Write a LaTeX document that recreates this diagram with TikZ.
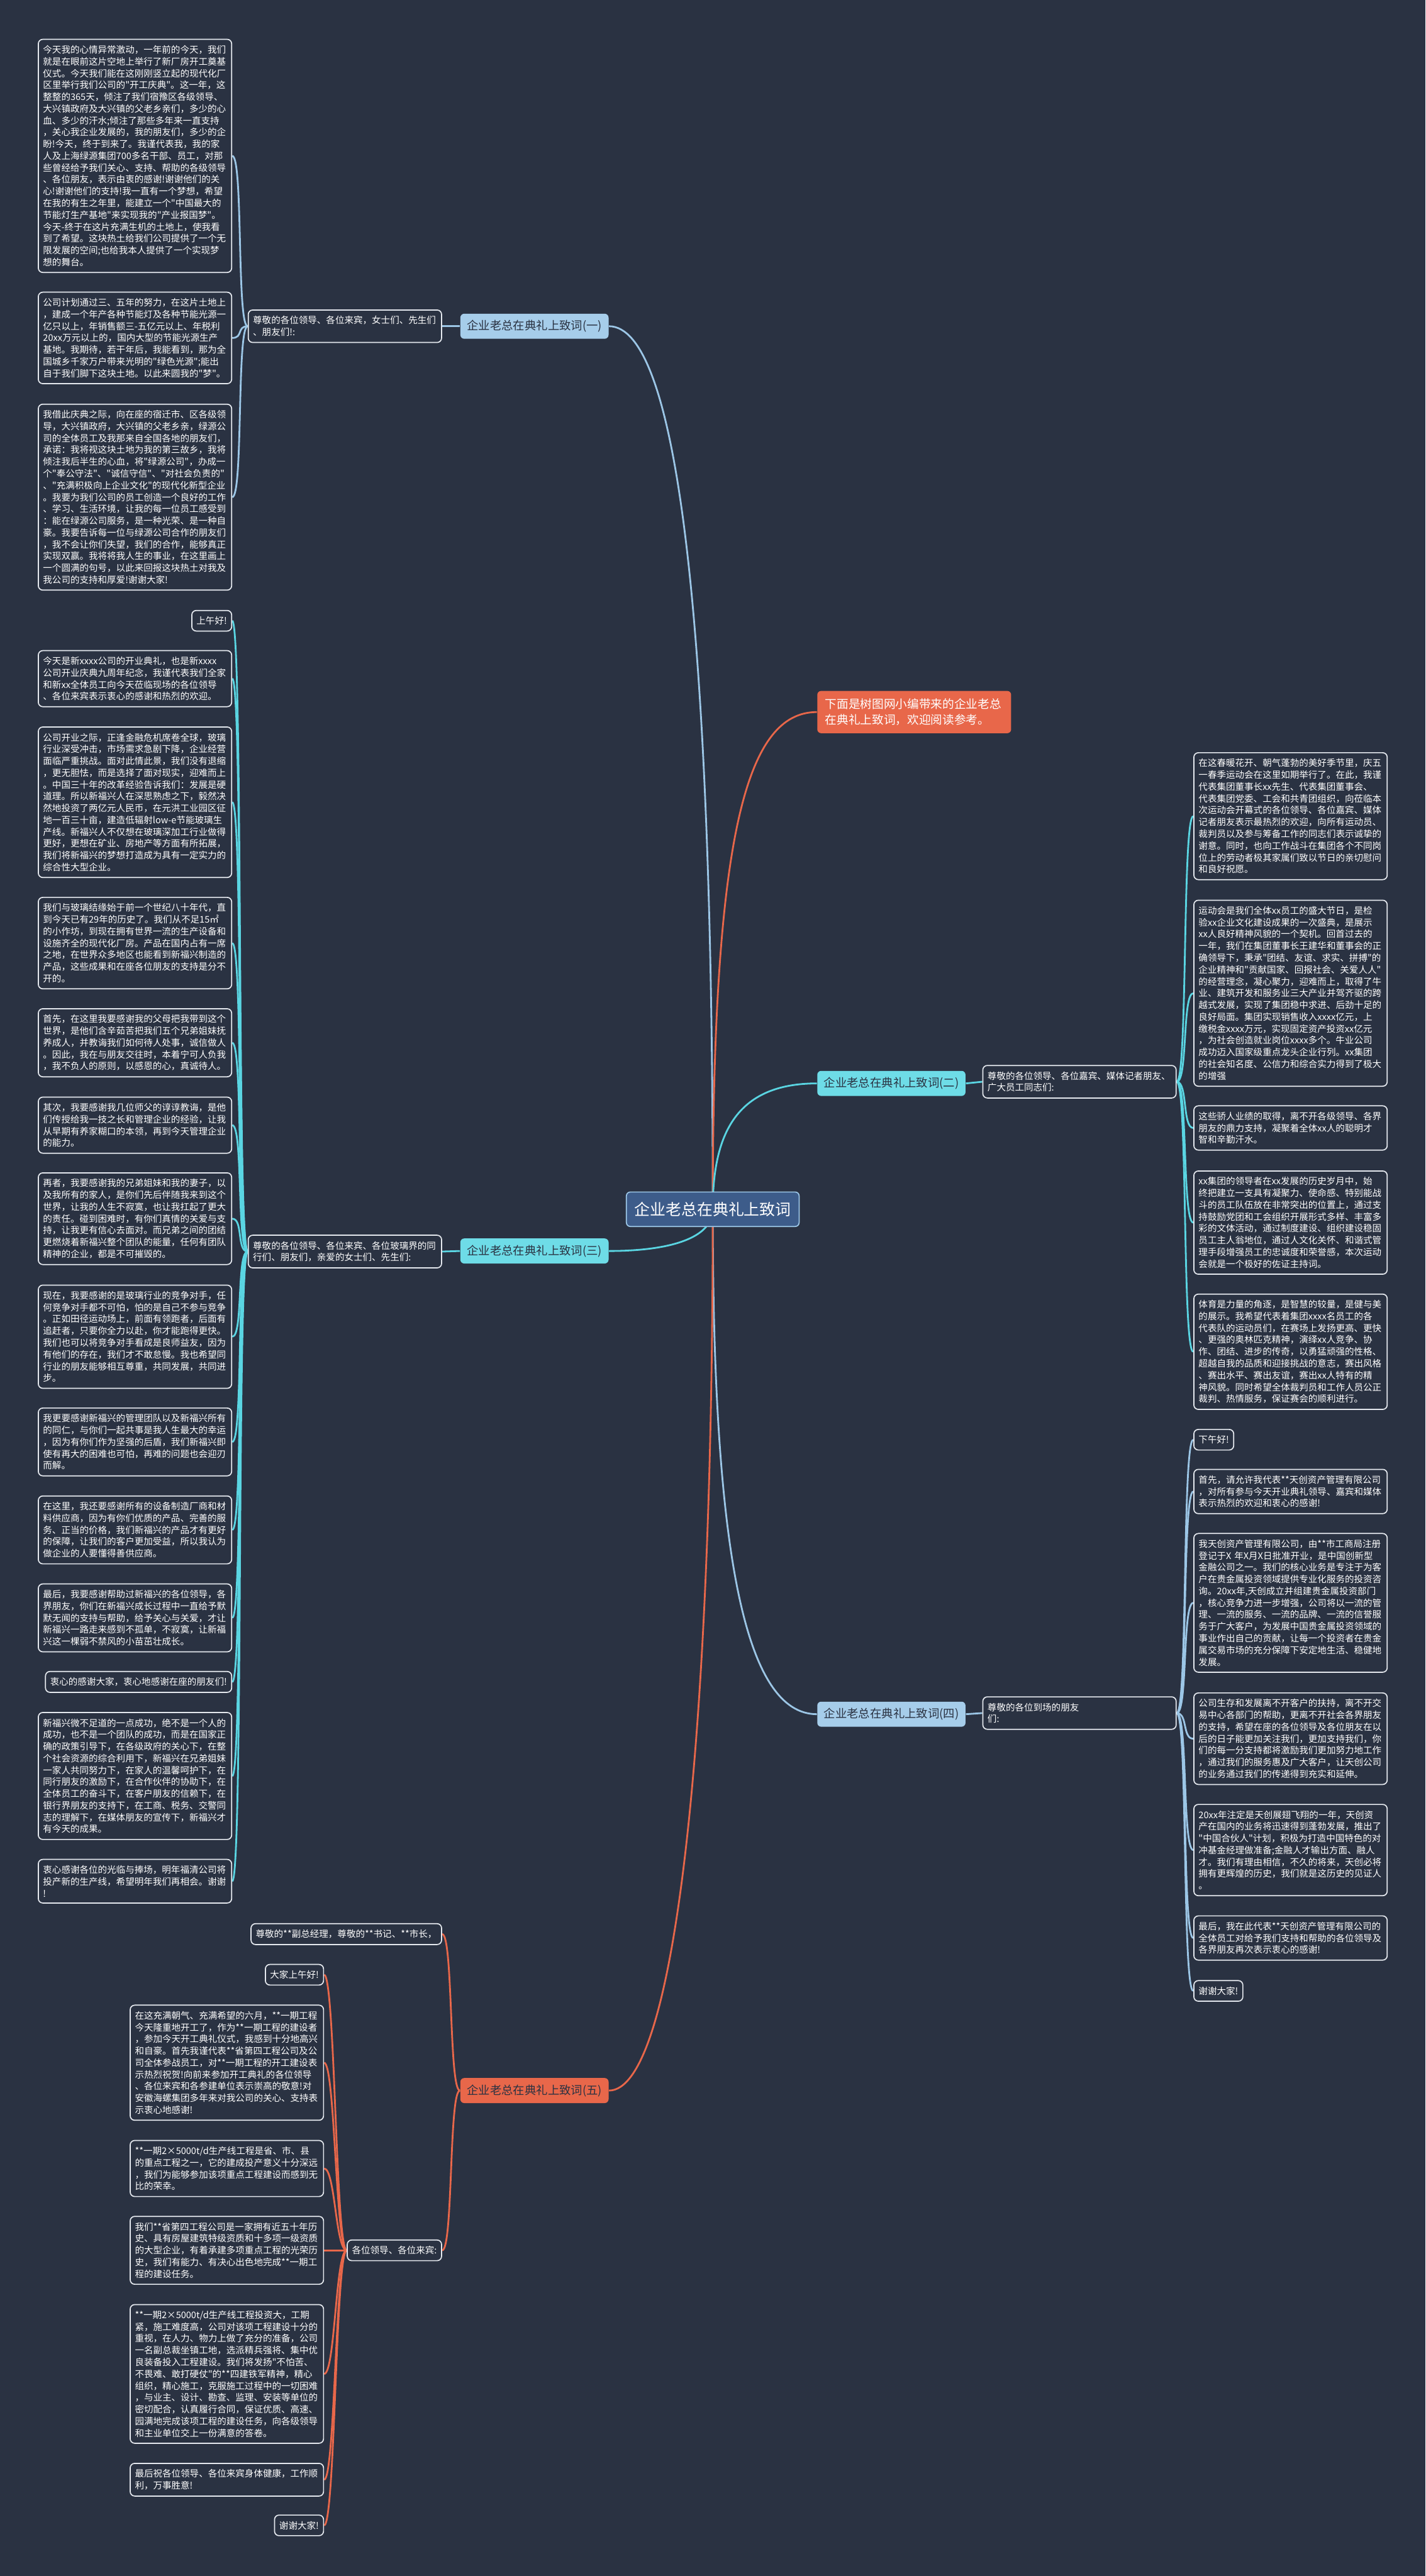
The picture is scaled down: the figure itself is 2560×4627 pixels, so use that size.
\documentclass[tikz,border=0pt]{standalone}
\usepackage{fontspec}
\newfontfamily\cjk{Noto Sans CJK SC}
\usetikzlibrary{backgrounds}
\definecolor{bg}{HTML}{2A3242}
\definecolor{boxline}{HTML}{E4E8EE}
\definecolor{skyline}{HTML}{9CC6E6}
\definecolor{skyfill}{HTML}{A6CDEA}
\definecolor{cyanline}{HTML}{5AD5E2}
\definecolor{cyanfill}{HTML}{6EDCE7}
\definecolor{redline}{HTML}{E8674A}
\definecolor{rootfill}{HTML}{3D5C8A}
\tikzset{
    para/.style={draw=boxline, line width=0.55pt, rounded corners=2.3pt, fill=bg,
        text=white, font=\cjk\fontsize{4.67pt}{6.03pt}\selectfont, align=left,
        text width=93.9pt, inner xsep=2.42pt, inner ysep=3.1pt},
    tag/.style={para, text width={}},
    topic/.style={rounded corners=2pt, text=bg, font=\cjk\fontsize{5.9pt}{7pt}\selectfont,
        minimum width=75.7pt, minimum height=12.8pt, inner sep=1pt},
    skylink/.style={draw=skyline, line width=0.9pt},
    cyanlink/.style={draw=cyanline, line width=0.9pt},
    redlink/.style={draw=redline, line width=0.9pt}
}
\begin{document}
\begin{tikzpicture}[x=0.01cm, y=-0.01cm]
    \useasboundingbox (0,0) rectangle (2560,4627);

    \node[draw=skyline, line width=0.55pt, fill=rootfill, rounded corners=2pt, text=white,
        font=\cjk\fontsize{8pt}{9pt}\selectfont, minimum width=88.2pt, minimum height=17.6pt]
        (root) at (1280,2172) {企业老总在典礼上致词};

    \node[fill=redline, rounded corners=2pt, text=white, font=\cjk\fontsize{6pt}{8.2pt}\selectfont,
        align=left, text width=91pt, inner xsep=4pt, minimum height=21.6pt, anchor=west]
        (intro) at (1467,1279) {下面是树图网小编带来的企业老总\\在典礼上致词，欢迎阅读参考。};

    \node[topic, fill=skyfill, anchor=west] (t1) at (826,586) {企业老总在典礼上致词(一)};
    \node[topic, fill=cyanfill, anchor=west] (t2) at (1467,1946) {企业老总在典礼上致词(二)};
    \node[topic, fill=cyanfill, anchor=west] (t3) at (826,2247) {企业老总在典礼上致词(三)};
    \node[topic, fill=skyfill, anchor=west] (t4) at (1467,3079) {企业老总在典礼上致词(四)};
    \node[topic, fill=redline, anchor=west] (t5) at (826,3755) {企业老总在典礼上致词(五)};

    \node[para, anchor=east] (s1) at (794,586) {尊敬的各位领导、各位来宾，女士们、先生们\\、朋友们!:};
    \node[para, anchor=west] (s2) at (1764,1943) {尊敬的各位领导、各位嘉宾、媒体记者朋友、\\广大员工同志们:};
    \node[para, anchor=east] (s3) at (794,2248) {尊敬的各位领导、各位来宾、各位玻璃界的同\\行们、朋友们，亲爱的女士们、先生们:};
    \node[para, anchor=west] (s4) at (1764,3077) {尊敬的各位到场的朋友\\们:};
    \node[tag, anchor=east] (s5) at (794,4042) {各位领导、各位来宾:};
    \node[tag, anchor=east] (f0) at (794,3474) {尊敬的**副总经理，尊敬的**书记、**市长，};

    \node[para, anchor=east] (a1) at (417,280) {今天我的心情异常激动，一年前的今天，我们\\就是在眼前这片空地上举行了新厂房开工奠基\\仪式。今天我们能在这刚刚竖立起的现代化厂\\区里举行我们公司的"开工庆典"。这一年，这\\整整的365天，倾注了我们宿豫区各级领导、\\大兴镇政府及大兴镇的父老乡亲们，多少的心\\血、多少的汗水;倾注了那些多年来一直支持\\，关心我企业发展的，我的朋友们，多少的企\\盼!今天，终于到来了。我谨代表我，我的家\\人及上海绿源集团700多名干部、员工，对那\\些曾经给予我们关心、支持、帮助的各级领导\\、各位朋友，表示由衷的感谢!谢谢他们的关\\心!谢谢他们的支持!我一直有一个梦想，希望\\在我的有生之年里，能建立一个"中国最大的\\节能灯生产基地"来实现我的"产业报国梦"。\\今天-终于在这片充满生机的土地上，使我看\\到了希望。这块热土给我们公司提供了一个无\\限发展的空间;也给我本人提供了一个实现梦\\想的舞台。};
    \node[para, anchor=east] (a2) at (417,607) {公司计划通过三、五年的努力，在这片土地上\\，建成一个年产各种节能灯及各种节能光源一\\亿只以上，年销售额三-五亿元以上、年税利\\20xx万元以上的，国内大型的节能光源生产\\基地。我期待，若干年后，我能看到，那为全\\国城乡千家万户带来光明的"绿色光源";能出\\自于我们脚下这块土地。以此来圆我的"梦"。};
    \node[para, anchor=east] (a3) at (417,893) {我借此庆典之际，向在座的宿迁市、区各级领\\导，大兴镇政府，大兴镇的父老乡亲，绿源公\\司的全体员工及我那来自全国各地的朋友们，\\承诺：我将视这块土地为我的第三故乡，我将\\倾注我后半生的心血，将"绿源公司"，办成一\\个"奉公守法"、"诚信守信"、"对社会负责的"\\、"充满积极向上企业文化"的现代化新型企业\\。我要为我们公司的员工创造一个良好的工作\\、学习、生活环境，让我的每一位员工感受到\\：能在绿源公司服务，是一种光荣、是一种自\\豪。我要告诉每一位与绿源公司合作的朋友们\\，我不会让你们失望，我们的合作，能够真正\\实现双赢。我将将我人生的事业，在这里画上\\一个圆满的句号，以此来回报这块热土对我及\\我公司的支持和厚爱!谢谢大家!};

    \node[tag, anchor=east] (c0) at (417,1115) {上午好!};
    \node[para, anchor=east] (c1) at (417,1219) {今天是新xxxx公司的开业典礼，也是新xxxx\\公司开业庆典九周年纪念，我谨代表我们全家\\和新xx全体员工向今天莅临现场的各位领导\\、各位来宾表示衷心的感谢和热烈的欢迎。};
    \node[para, anchor=east] (c2) at (417,1441) {公司开业之际，正逢金融危机席卷全球，玻璃\\行业深受冲击，市场需求急剧下降，企业经营\\面临严重挑战。面对此情此景，我们没有退缩\\，更无胆怯，而是选择了面对现实，迎难而上\\。中国三十年的改革经验告诉我们：发展是硬\\道理。所以新福兴人在深思熟虑之下，毅然决\\然地投资了两亿元人民币，在元洪工业园区征\\地一百三十亩，建造低辐射low-e节能玻璃生\\产线。新福兴人不仅想在玻璃深加工行业做得\\更好，更想在矿业、房地产等方面有所拓展，\\我们将新福兴的梦想打造成为具有一定实力的\\综合性大型企业。};
    \node[para, anchor=east] (c3) at (417,1694) {我们与玻璃结缘始于前一个世纪八十年代，直\\到今天已有29年的历史了。我们从不足15㎡\\的小作坊，到现在拥有世界一流的生产设备和\\设施齐全的现代化厂房。产品在国内占有一席\\之地，在世界众多地区也能看到新福兴制造的\\产品，这些成果和在座各位朋友的支持是分不\\开的。};
    \node[para, anchor=east] (c4) at (417,1873) {首先，在这里我要感谢我的父母把我带到这个\\世界，是他们含辛茹苦把我们五个兄弟姐妹抚\\养成人，并教诲我们如何待人处事，诚信做人\\。因此，我在与朋友交往时，本着宁可人负我\\，我不负人的原则，以感恩的心，真诚待人。};
    \node[para, anchor=east] (c5) at (417,2021) {其次，我要感谢我几位师父的谆谆教诲，是他\\们传授给我一技之长和管理企业的经验，让我\\从早期有养家糊口的本领，再到今天管理企业\\的能力。};
    \node[para, anchor=east] (c6) at (417,2189) {再者，我要感谢我的兄弟姐妹和我的妻子，以\\及我所有的家人，是你们先后伴随我来到这个\\世界，让我的人生不寂寞，也让我扛起了更大\\的责任。碰到困难时，有你们真情的关爱与支\\持，让我更有信心去面对。而兄弟之间的团结\\更燃烧着新福兴整个团队的能量，任何有团队\\精神的企业，都是不可摧毁的。};
    \node[para, anchor=east] (c7) at (417,2401) {现在，我要感谢的是玻璃行业的竞争对手，任\\何竞争对手都不可怕，怕的是自己不参与竞争\\。正如田径运动场上，前面有领跑者，后面有\\追赶者，只要你全力以赴，你才能跑得更快。\\我们也可以将竞争对手看成是良师益友，因为\\有他们的存在，我们才不敢怠慢。我也希望同\\行业的朋友能够相互尊重，共同发展，共同进\\步。};
    \node[para, anchor=east] (c8) at (417,2590) {我更要感谢新福兴的管理团队以及新福兴所有\\的同仁，与你们一起共事是我人生最大的幸运\\，因为有你们作为坚强的后盾，我们新福兴即\\使有再大的困难也可怕，再难的问题也会迎刃\\而解。};
    \node[para, anchor=east] (c9) at (417,2748) {在这里，我还要感谢所有的设备制造厂商和材\\料供应商，因为有你们优质的产品、完善的服\\务、正当的价格，我们新福兴的产品才有更好\\的保障，让我们的客户更加受益，所以我认为\\做企业的人要懂得善供应商。};
    \node[para, anchor=east] (c10) at (417,2906) {最后，我要感谢帮助过新福兴的各位领导，各\\界朋友，你们在新福兴成长过程中一直给予默\\默无闻的支持与帮助，给予关心与关爱，才让\\新福兴一路走来感到不孤单，不寂寞，让新福\\兴这一棵弱不禁风的小苗茁壮成长。};
    \node[tag, anchor=east] (c11) at (417,3021) {衷心的感谢大家，衷心地感谢在座的朋友们!};
    \node[para, anchor=east] (c12) at (417,3190) {新福兴微不足道的一点成功，绝不是一个人的\\成功，也不是一个团队的成功，而是在国家正\\确的政策引导下，在各级政府的关心下，在整\\个社会资源的综合利用下，新福兴在兄弟姐妹\\一家人共同努力下，在家人的温馨呵护下，在\\同行朋友的激励下，在合作伙伴的协助下，在\\全体员工的奋斗下，在客户朋友的信赖下，在\\银行界朋友的支持下，在工商、税务、交警同\\志的理解下，在媒体朋友的宣传下，新福兴才\\有今天的成果。};
    \node[para, anchor=east] (c13) at (417,3379) {衷心感谢各位的光临与捧场，明年福清公司将\\投产新的生产线，希望明年我们再相会。谢谢\\!};

    \node[para, anchor=west] (d1) at (2143,1466) {在这春暖花开、朝气蓬勃的美好季节里，庆五\\一春季运动会在这里如期举行了。在此，我谨\\代表集团董事长xx先生、代表集团董事会、\\代表集团党委、工会和共青团组织，向莅临本\\次运动会开幕式的各位领导、各位嘉宾、媒体\\记者朋友表示最热烈的欢迎，向所有运动员、\\裁判员以及参与筹备工作的同志们表示诚挚的\\谢意。同时，也向工作战斗在集团各个不同岗\\位上的劳动者极其家属们致以节日的亲切慰问\\和良好祝愿。};
    \node[para, anchor=west] (d2) at (2143,1784) {运动会是我们全体xx员工的盛大节日，是检\\验xx企业文化建设成果的一次盛典，是展示\\xx人良好精神风貌的一个契机。回首过去的\\一年，我们在集团董事长王建华和董事会的正\\确领导下，秉承"团结、友谊、求实、拼搏"的\\企业精神和"贡献国家、回报社会、关爱人人"\\的经营理念，凝心聚力，迎难而上，取得了牛\\业、建筑开发和服务业三大产业并驾齐驱的跨\\越式发展，实现了集团稳中求进、后劲十足的\\良好局面。集团实现销售收入xxxx亿元，上\\缴税金xxxx万元，实现固定资产投资xx亿元\\，为社会创造就业岗位xxxx多个。牛业公司\\成功迈入国家级重点龙头企业行列。xx集团\\的社会知名度、公信力和综合实力得到了极大\\的增强};
    \node[para, anchor=west] (d3) at (2143,2026) {这些骄人业绩的取得，离不开各级领导、各界\\朋友的鼎力支持，凝聚着全体xx人的聪明才\\智和辛勤汗水。};
    \node[para, anchor=west] (d4) at (2143,2196) {xx集团的领导者在xx发展的历史岁月中，始\\终把建立一支具有凝聚力、使命感、特别能战\\斗的员工队伍放在非常突出的位置上，通过支\\持鼓励党团和工会组织开展形式多样、丰富多\\彩的文体活动，通过制度建设、组织建设稳固\\员工主人翁地位，通过人文化关怀、和谐式管\\理手段增强员工的忠诚度和荣誉感，本次运动\\会就是一个极好的佐证主持词。};
    \node[para, anchor=west] (d5) at (2143,2428) {体育是力量的角逐，是智慧的较量，是健与美\\的展示。我希望代表着集团xxxx名员工的各\\代表队的运动员们，在赛场上发扬更高、更快\\、更强的奥林匹克精神，演绎xx人竞争、协\\作、团结、进步的传奇，以勇猛顽强的性格、\\超越自我的品质和迎接挑战的意志，赛出风格\\、赛出水平、赛出友谊，赛出xx人特有的精\\神风貌。同时希望全体裁判员和工作人员公正\\裁判、热情服务，保证赛会的顺利进行。};

    \node[tag, anchor=west] (e0) at (2143,2586) {下午好!};
    \node[para, anchor=west] (e1) at (2143,2679) {首先，请允许我代表**天创资产管理有限公司\\，对所有参与今天开业典礼领导、嘉宾和媒体\\表示热烈的欢迎和衷心的感谢!};
    \node[para, anchor=west] (e2) at (2143,2879) {我天创资产管理有限公司，由**市工商局注册\\登记于X 年X月X日批准开业，是中国创新型\\金融公司之一。我们的核心业务是专注于为客\\户在贵金属投资领域提供专业化服务的投资咨\\询。20xx年,天创成立并组建贵金属投资部门\\，核心竞争力进一步增强，公司将以一流的管\\理、一流的服务、一流的品牌、一流的信誉服\\务于广大客户，为发展中国贵金属投资领域的\\事业作出自己的贡献，让每一个投资者在贵金\\属交易市场的充分保障下安定地生活、稳健地\\发展。};
    \node[para, anchor=west] (e3) at (2143,3123) {公司生存和发展离不开客户的扶持，离不开交\\易中心各部门的帮助，更离不开社会各界朋友\\的支持，希望在座的各位领导及各位朋友在以\\后的日子能更加关注我们，更加支持我们，你\\们的每一分支持都将激励我们更加努力地工作\\，通过我们的服务惠及广大客户，让天创公司\\的业务通过我们的传递得到充实和延伸。};
    \node[para, anchor=west] (e4) at (2143,3323) {20xx年注定是天创展翅飞翔的一年，天创资\\产在国内的业务将迅速得到蓬勃发展，推出了\\"中国合伙人"计划，积极为打造中国特色的对\\冲基金经理做准备;金融人才输出方面、融人\\才。我们有理由相信，不久的将来，天创必将\\拥有更辉煌的历史，我们就是这历史的见证人\\。};
    \node[para, anchor=west] (e5) at (2143,3481) {最后，我在此代表**天创资产管理有限公司的\\全体员工对给予我们支持和帮助的各位领导及\\各界朋友再次表示衷心的感谢!};
    \node[tag, anchor=west] (e6) at (2143,3576) {谢谢大家!};

    \node[tag, anchor=east] (b0) at (582,3547) {大家上午好!};
    \node[para, anchor=east] (b1) at (582,3705) {在这充满朝气、充满希望的六月，**一期工程\\今天隆重地开工了，作为**一期工程的建设者\\，参加今天开工典礼仪式，我感到十分地高兴\\和自豪。首先我谨代表**省第四工程公司及公\\司全体参战员工，对**一期工程的开工建设表\\示热烈祝贺!向前来参加开工典礼的各位领导\\、各位来宾和各参建单位表示崇高的敬意!对\\安徽海螺集团多年来对我公司的关心、支持表\\示衷心地感谢!};
    \node[para, anchor=east] (b2) at (582,3895) {**一期2×5000t/d生产线工程是省、市、县\\的重点工程之一，它的建成投产意义十分深远\\，我们为能够参加该项重点工程建设而感到无\\比的荣幸。};
    \node[para, anchor=east] (b3) at (582,4042) {我们**省第四工程公司是一家拥有近五十年历\\史、具有房屋建筑特级资质和十多项一级资质\\的大型企业，有着承建多项重点工程的光荣历\\史，我们有能力、有决心出色地完成**一期工\\程的建设任务。};
    \node[para, anchor=east] (b4) at (582,4264) {**一期2×5000t/d生产线工程投资大，工期\\紧，施工难度高，公司对该项工程建设十分的\\重视，在人力、物力上做了充分的准备，公司\\一名副总裁坐镇工地，选派精兵强将、集中优\\良装备投入工程建设。我们将发扬"不怕苦、\\不畏难、敢打硬仗"的**四建铁军精神，精心\\组织，精心施工，克服施工过程中的一切困难\\，与业主、设计、勘查、监理、安装等单位的\\密切配合，认真履行合同，保证优质、高速、\\园满地完成该项工程的建设任务，向各级领导\\和主业单位交上一份满意的答卷。};
    \node[para, anchor=east] (b5) at (582,4454) {最后祝各位领导、各位来宾身体健康，工作顺\\利，万事胜意!};
    \node[tag, anchor=east] (b6) at (582,4536) {谢谢大家!};

    \begin{pgfonlayer}{background}
        \fill[bg] (0,0) rectangle (2560,4627);

        \draw[skylink] (root.center) .. controls (1280,1100) and (1215,586) .. (t1.east);
        \draw[redlink] (root.center) .. controls (1280,1500) and (1340,1279) .. (intro.west);
        \draw[cyanlink] (root.center) .. controls (1280,2040) and (1320,1946) .. (t2.west);
        \draw[cyanlink] (root.center) .. controls (1280,2225) and (1200,2247) .. (t3.east);
        \draw[skylink] (root.center) .. controls (1280,2800) and (1340,3079) .. (t4.west);
        \draw[redlink] (root.center) .. controls (1280,3150) and (1210,3755) .. (t5.east);

        \draw[skylink] (t1.west) -- (s1.east);
        \draw[cyanlink] (t2.east) -- (s2.west);
        \draw[cyanlink] (t3.west) -- (s3.east);
        \draw[skylink] (t4.east) -- (s4.west);
        \draw[redlink] (t5.west) .. controls +(-20,0) and +(20,0) .. (f0.east);
        \draw[redlink] (t5.west) .. controls +(-20,0) and +(20,0) .. (s5.east);

        \foreach \n in {a1,a2,a3}
            \draw[skylink] (s1.west) .. controls +(-20,0) and +(20,0) .. (\n.east);
        \foreach \n in {c0,c1,c2,c3,c4,c5,c6,c7,c8,c9,c10,c11,c12,c13}
            \draw[cyanlink] (s3.west) .. controls +(-20,0) and +(20,0) .. (\n.east);
        \foreach \n in {d1,d2,d3,d4,d5}
            \draw[cyanlink] (s2.east) .. controls +(20,0) and +(-20,0) .. (\n.west);
        \foreach \n in {e0,e1,e2,e3,e4,e5,e6}
            \draw[skylink] (s4.east) .. controls +(20,0) and +(-20,0) .. (\n.west);
        \foreach \n in {b0,b1,b2,b3,b4,b5,b6}
            \draw[redlink] (s5.west) .. controls +(-20,0) and +(20,0) .. (\n.east);
    \end{pgfonlayer}
\end{tikzpicture}
\end{document}
